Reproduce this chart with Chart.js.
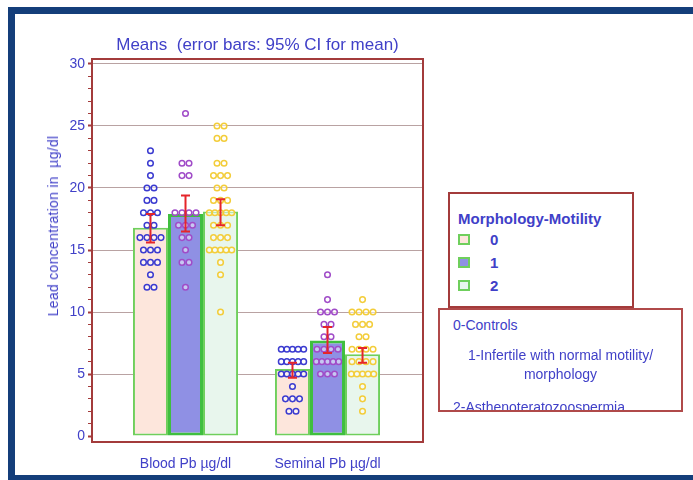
<!DOCTYPE html>
<html>
<head>
<meta charset="utf-8">
<script src="https://cdn.jsdelivr.net/npm/chart.js@4.4.1/dist/chart.umd.min.js"></script>
<style>
  body { margin: 0; background: #fff; }
  #wrap { position: relative; width: 693px; height: 480px; overflow: hidden; font-family: "Liberation Sans", Arial, sans-serif; color: #4040c8; }
  #frame { position: absolute; left: 8px; top: 7px; width: 720px; height: 461px; border: 7px solid #143e7a; }
  #chart { position: absolute; left: 0; top: 0; }
  #y-title { position: absolute; left: 53px; top: 226px; transform: translate(-50%, -50%) rotate(-90deg); white-space: nowrap; font-size: 14px; letter-spacing: 0.3px; }
  #legend { position: absolute; left: 448px; top: 192px; width: 186px; height: 116px; box-sizing: border-box; border: 2px solid #a33b3b; background: #fff; padding: 16px 0 0 8px; }
  #legend .title { font-size: 15px; font-weight: bold; line-height: 18px; white-space: nowrap; }
  #legend .item { height: 23px; line-height: 23px; font-size: 15px; font-weight: bold; display: flex; align-items: center; }
  #legend .item:first-of-type { margin-top: 2px; }
  #legend .swatch { width: 12px; height: 11px; box-sizing: border-box; border: 2px solid #6fcf5c; margin-right: 20px; }
  #notes { position: absolute; left: 438px; top: 308px; width: 245px; height: 104px; box-sizing: border-box; border: 2px solid #b04a4a; background: #fff; overflow: hidden; font-size: 14px; }
  #notes div { position: absolute; white-space: nowrap; line-height: 16px; }
</style>
</head>
<body>
<div id="wrap">
  <div id="frame"></div>
  <canvas id="chart" width="693" height="480"></canvas>
  <div id="y-title">Lead concentration in&nbsp; µg/dl</div>
  <div id="legend"><div class="title">Morphology-Motility</div></div>
  <div id="notes">
    <div style="left:13px; top:7px;">0-Controls</div>
    <div style="left:0; width:241px; text-align:center; top:37px;">1-Infertile with normal motility/</div>
    <div style="left:0; width:241px; text-align:center; top:56px;">morphology</div>
    <div style="left:13px; top:89px;">2-Asthenoteratozoospermia</div>
  </div>
</div>
<script>
const categories = ["Blood Pb µg/dl", "Seminal Pb µg/dl"];
const groups = ["0", "1", "2"];

// bar heights (means) per group: [blood, seminal]
const mean0 = [16.8, 5.4];
const mean1 = [17.9, 7.7];
const mean2 = [18.1, 6.6];

// 95% CI for mean
const ciLow0 = [15.6, 4.7];
const ciHigh0 = [17.9, 5.9];
const ciLow1 = [16.5, 6.7];
const ciHigh1 = [19.4, 8.8];
const ciLow2 = [17.0, 5.9];
const ciHigh2 = [19.1, 7.1];

// individual measurements
const blood0 = [23, 22, 21, 20, 20, 19, 19, 18, 18, 18, 17, 17, 16, 16, 16, 16, 15, 15, 15, 14, 14, 14, 13, 12, 12];
const blood1 = [26, 22, 22, 21, 21, 18, 18, 18, 18, 17, 17, 17, 16, 16, 15, 14, 14, 12];
const blood2 = [25, 25, 24, 24, 22, 22, 21, 21, 21, 20, 20, 19, 19, 19, 18, 18, 18, 18, 18, 17, 17, 17, 16, 16, 16, 15, 15, 15, 15, 15, 14, 13, 10];
const seminal0 = [7, 7, 7, 7, 7, 6, 6, 6, 6, 6, 5, 5, 5, 5, 5, 4, 3, 3, 3, 2, 2];
const seminal1 = [13, 11, 10, 10, 10, 9, 9, 8, 8, 7, 7, 7, 7, 6, 6, 6, 6, 6, 5, 5, 5];
const seminal2 = [11, 10, 10, 10, 10, 9, 9, 9, 8, 8, 7, 7, 7, 7, 6, 6, 6, 6, 5, 5, 5, 5, 5, 4, 3, 2];

const yTicks = [0, 5, 10, 15, 20, 25, 30];

const TEXT = "#4040c8";
const FRAME = "#a33b3b";
const GRID = "#b9a2a2";
const ERR = "#e5252a";
const CATEGORY_PCT = 0.74;
const barUnit = CATEGORY_PCT / groups.length;

const barFill = ["#fde6dc", "#8f90e4", "#e8f6ed"];
const barBorder = ["#6fcf5c", "#3fbf3f", "#6fcf5c"];
const barBorderWidth = [2, 3, 2];
const dotColor = ["#3b3bd0", "#a04cc8", "#f3cd3a"];

const means = [mean0, mean1, mean2];
const lows = [ciLow0, ciLow1, ciLow2];
const highs = [ciHigh0, ciHigh1, ciHigh2];
const samples = [[blood0, seminal0], [blood1, seminal1], [blood2, seminal2]];

function dotPoints(values, catIndex, groupIndex) {
  const counts = new Map();
  values.forEach((v) => counts.set(v, (counts.get(v) || 0) + 1));
  const center = catIndex + 1 + (groupIndex - 1) * barUnit;
  const points = [];
  for (const [value, n] of counts) {
    const step = barUnit * (n >= 5 ? 0.16 : 0.2);
    for (let i = 0; i < n; i++) {
      points.push({ x: center + (i - (n - 1) / 2) * step, y: value });
    }
  }
  return points;
}

const datasets = [];
groups.forEach((g, j) => {
  datasets.push({
    type: "bar",
    label: g,
    data: categories.map((c, i) => ({ x: i + 1, y: means[j][i] })),
    backgroundColor: barFill[j],
    borderColor: barBorder[j],
    borderWidth: barBorderWidth[j],
    borderSkipped: false,
    categoryPercentage: CATEGORY_PCT,
    barPercentage: 1,
    order: 2,
  });
});
groups.forEach((g, j) => {
  datasets.push({
    type: "scatter",
    label: "values " + g,
    data: categories.flatMap((c, i) => dotPoints(samples[j][i], i, j)),
    borderColor: dotColor[j],
    backgroundColor: "rgba(255,255,255,0.5)",
    pointRadius: 2.8,
    pointBorderWidth: 1.5,
    order: 1,
  });
});

const errorBars = {
  id: "errorBars",
  afterDatasetsDraw(chart) {
    const { ctx, scales } = chart;
    ctx.save();
    ctx.strokeStyle = ERR;
    ctx.lineWidth = 2;
    groups.forEach((g, j) => {
      const meta = chart.getDatasetMeta(j);
      categories.forEach((c, i) => {
        const x = meta.data[i].x;
        const yl = scales.y.getPixelForValue(lows[j][i]);
        const yh = scales.y.getPixelForValue(highs[j][i]);
        ctx.beginPath();
        ctx.moveTo(x, yl);
        ctx.lineTo(x, yh);
        ctx.moveTo(x - 4.5, yl);
        ctx.lineTo(x + 4.5, yl);
        ctx.moveTo(x - 4.5, yh);
        ctx.lineTo(x + 4.5, yh);
        ctx.stroke();
      });
    });
    ctx.restore();
  },
};

const plotFrame = {
  id: "plotFrame",
  afterDraw(chart) {
    const { ctx, chartArea: a } = chart;
    ctx.save();
    ctx.strokeStyle = FRAME;
    ctx.lineWidth = 2;
    ctx.strokeRect(a.left, a.top, a.right - a.left, a.bottom - a.top);
    ctx.restore();
  },
};

new Chart(document.getElementById("chart"), {
  type: "bar",
  data: { datasets },
  options: {
    responsive: false,
    animation: false,
    layout: { padding: { left: 0, right: 270, top: 0, bottom: 0 } },
    plugins: {
      legend: { display: false },
      tooltip: { enabled: false },
      title: {
        display: true,
        fullSize: false,
        text: "Means  (error bars: 95% CI for mean)",
        color: TEXT,
        font: { family: "Liberation Sans", size: 17, weight: "normal" },
        padding: { top: 35, bottom: 3.6 },
      },
    },
    scales: {
      x: {
        type: "linear",
        offset: false,
        min: 0.3415,
        max: 2.6725,
        grid: { display: false, drawTicks: false },
        border: { display: false },
        afterBuildTicks: (scale) => {
          scale.ticks = categories.map((c, i) => ({ value: i + 1 }));
        },
        afterFit: (scale) => {
          scale.height = 38;
        },
        ticks: {
          autoSkip: false,
          maxRotation: 0,
          padding: 14,
          color: TEXT,
          font: { family: "Liberation Sans", size: 14 },
          callback: (value) => categories[value - 1] || "",
        },
      },
      y: {
        min: -0.48,
        max: 30.4,
        border: { display: false },
        afterBuildTicks: (scale) => {
          const ticks = [];
          for (let v = yTicks[0]; v <= yTicks[yTicks.length - 1]; v++) {
            ticks.push({ value: v });
          }
          scale.ticks = ticks;
        },
        afterFit: (scale) => {
          scale.width = 92;
        },
        grid: {
          color: (ctx) => (ctx.tick && ctx.tick.value > 0 && yTicks.includes(ctx.tick.value) ? GRID : "rgba(0,0,0,0)"),
          lineWidth: 1,
          tickColor: FRAME,
          tickLength: 4,
          tickWidth: (ctx) => (ctx.tick && yTicks.includes(ctx.tick.value) ? 2 : 1),
        },
        ticks: {
          autoSkip: false,
          padding: 3,
          color: TEXT,
          font: { family: "Liberation Sans", size: 14 },
          callback: (value) => (yTicks.includes(value) ? String(value) : ""),
        },
      },
    },
  },
  plugins: [errorBars, plotFrame],
});

// legend entries
const legendEl = document.getElementById("legend");
groups.forEach((g, j) => {
  const item = document.createElement("div");
  item.className = "item";
  item.innerHTML = `<span class="swatch" style="background:${barFill[j]}"></span><span>${g}</span>`;
  legendEl.appendChild(item);
});
</script>
</body>
</html>
